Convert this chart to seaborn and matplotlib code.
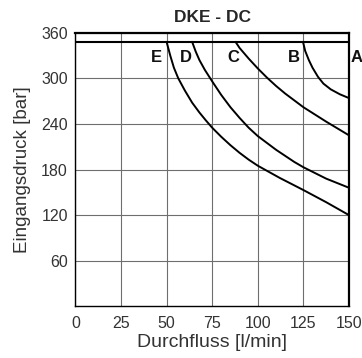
import matplotlib
matplotlib.use('Agg')
import matplotlib.pyplot as plt
import seaborn as sns
import pandas as pd

# Kennlinien (Durchfluss l/min, Eingangsdruck bar)
e_x = [50, 52, 54, 56.4, 60, 64, 68, 71.4, 75, 80, 85, 90, 95, 100, 112, 125, 137.5, 150]
e_y = [348, 330, 314, 300, 284, 268, 255, 245, 235, 223, 212, 202, 193, 185, 169, 153, 137, 120]
d_x = [64, 66, 68, 71, 75, 80, 85, 90, 95, 100, 110, 120, 125, 137.5, 150]
d_y = [348, 335, 324, 311, 296, 278, 262, 248, 235, 224, 206, 190, 183, 168, 156]
c_x = [87.8, 90, 95, 100, 105, 110, 115, 120, 125, 137.5, 150]
c_y = [348, 340, 326, 313, 301, 290, 280, 271, 262, 243, 225]
b_x = [124.8, 126, 128, 130, 133, 136, 140, 145, 150]
b_y = [348, 336, 324, 314, 302, 293, 285.5, 279, 274]

max_druck = 348
x_ticks = [0, 25, 50, 75, 100, 125, 150]
y_ticks = [60, 120, 180, 240, 300, 360]

labels = ['E', 'D', 'C', 'B', 'A']
label_x = [44.7, 60.6, 86.4, 119.7, 153.9]
label_y = 328

rows = []
for name, xs, ys in [('E', e_x, e_y), ('D', d_x, d_y), ('C', c_x, c_y), ('B', b_x, b_y)]:
    for x, y in zip(xs, ys):
        rows.append({'kurve': name, 'durchfluss': x, 'druck': y})
df = pd.DataFrame(rows)

sns.set_theme(style='white')
plt.rcParams['font.family'] = ['Liberation Sans', 'DejaVu Sans']

fig = plt.figure(figsize=(3.62, 3.58), dpi=100)
ax = fig.add_axes([0.2083, 0.1444, 0.7557, 0.7642])

sns.lineplot(data=df, x='durchfluss', y='druck', units='kurve', estimator=None,
             sort=False, color='black', lw=1.4, ax=ax)
for l in ax.lines:
    l.set_solid_joinstyle('round')

ax.axhline(max_druck, color='black', lw=1.5, zorder=3)

ax.set_xlim(0, 150)
ax.set_ylim(0, 360)
ax.set_xticks(x_ticks)
ax.set_yticks(y_ticks)
ax.grid(True, color='#6e6e6e', lw=0.8)
ax.tick_params(axis='both', length=0, labelsize=11.5, colors='#333333', pad=5.5)
ax.tick_params(axis='x', pad=7)

for s in ['left', 'bottom']:
    ax.spines[s].set_color('black')
    ax.spines[s].set_linewidth(1.0)
for s in ['top', 'right']:
    ax.spines[s].set_color('black')
    ax.spines[s].set_linewidth(1.6)

for t, lx in zip(labels, label_x):
    ax.text(lx, label_y, t, ha='center', va='center', fontsize=12,
            fontweight='bold', color='#111111', clip_on=False)

ax.set_title('DKE - DC', fontsize=12.5, fontweight='bold', pad=8)
ax.set_xlabel('Durchfluss [l/min]', fontsize=14, color='#333333', labelpad=2)
ax.set_ylabel('Eingangsdruck [bar]', fontsize=13.5, color='#333333', labelpad=7)

fig.savefig('out.png', dpi=100)
